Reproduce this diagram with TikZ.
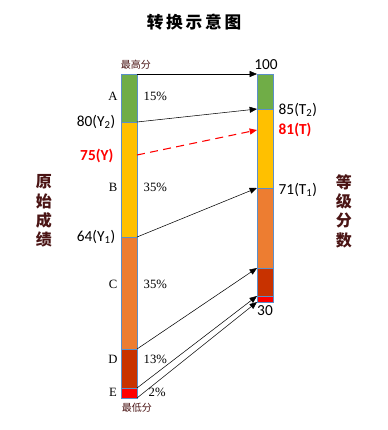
\documentclass[tikz,border=0pt]{standalone}
\usepackage{fontspec}
\setmainfont{Carlito}
\newfontfamily\serifnum{Liberation Serif}
\newfontfamily\cjk{Noto Sans CJK SC}
\usetikzlibrary{arrows.meta, calc}
\definecolor{bargreen}{HTML}{70AD47}
\definecolor{baryellow}{HTML}{FFC000}
\definecolor{barorange}{HTML}{ED7D31}
\definecolor{bardark}{HTML}{C83200}
\definecolor{barred}{HTML}{FF0000}
\definecolor{barline}{HTML}{5B8FC9}
\definecolor{cjkbrown}{HTML}{4A1414}
\newcommand{\pxu}{0.75pt}

\begin{document}
\begin{tikzpicture}[
      x=0.75pt, y=-0.75pt,
      seg/.style={draw=barline, line width=0.5pt, fill=#1, minimum width=16*\pxu,
                  inner sep=0pt, outer sep=0pt, anchor=north west},
      grade/.style={font=\serifnum\fontsize{9.5}{11}\selectfont},
      score/.style={font=\fontsize{11.5}{13}\selectfont},
      vtitle/.style={font=\cjk\bfseries\fontsize{12}{14.5}\selectfont, text=cjkbrown, align=center},
      link/.style={-{Triangle[length=5.5pt, width=4.5pt]}, thin},
    ]
    \useasboundingbox (0,0) rectangle (388,430);

    \node[font=\cjk\bfseries\fontsize{12.5}{14}\selectfont] (title) at (194,22) {转\,换\,示\,意\,图};

    % left bar
    \node[seg=bargreen, minimum height=48*\pxu] (lA) at (121,74) {};
    \node[seg=baryellow, minimum height=115*\pxu] (lB) at (121,122) {};
    \node[seg=barorange, minimum height=112*\pxu] (lC) at (121,237) {};
    \node[seg=bardark, minimum height=39*\pxu] (lD) at (121,349) {};
    \node[seg=barred, minimum height=10*\pxu] (lE) at (121,388) {};

    % right bar
    \node[seg=bargreen, minimum height=35*\pxu] (rA) at (257,74) {};
    \node[seg=baryellow, minimum height=79*\pxu] (rB) at (257,109) {};
    \node[seg=barorange, minimum height=80*\pxu] (rC) at (257,188) {};
    \node[seg=bardark, minimum height=28*\pxu] (rD) at (257,268) {};
    \node[seg=barred, minimum height=6*\pxu] (rE) at (257,296) {};

    \node[font=\cjk\fontsize{7.5}{9}\selectfont, text=cjkbrown] (top) at (136,65) {最高分};
    \node[font=\cjk\fontsize{7.5}{9}\selectfont, text=cjkbrown] (bottom) at (137,408) {最低分};

    \node[grade] (gA) at (113,96) {A};
    \node[grade] (gB) at (113,187) {B};
    \node[grade] (gC) at (113,284) {C};
    \node[grade] (gD) at (113,359) {D};
    \node[grade] (gE) at (113,392) {E};
    \node[grade, anchor=west] (pA) at (139,96) {15\%};
    \node[grade, anchor=west] (pB) at (139,187) {35\%};
    \node[grade, anchor=west] (pC) at (139,284) {35\%};
    \node[grade, anchor=west] (pD) at (139,359) {13\%};
    \node[grade, anchor=west] (pE) at (144,392) {2\%};

    \node[score, anchor=east] (y2) at (120,122) {80(Y\textsubscript{2})};
    \node[score, anchor=east, text=barred, font=\bfseries\fontsize{11.5}{13}\selectfont] (y) at (118,156) {75(Y)};
    \node[score, anchor=east] (y1) at (120,237) {64(Y\textsubscript{1})};

    \node[score] (t100) at (266,65) {100};
    \node[score, anchor=west] (t2) at (274,110) {85(T\textsubscript{2})};
    \node[score, anchor=west, text=barred, font=\bfseries\fontsize{11.5}{13}\selectfont] (t) at (274,130) {81(T)};
    \node[score, anchor=west] (t1) at (274,190) {71(T\textsubscript{1})};
    \node[score] (t30) at (265,311) {30};

    \node[vtitle] (raw) at (44,211) {原\\始\\成\\绩};
    \node[vtitle] (lvl) at (344,211) {等\\级\\分\\数};

    \coordinate (ly) at (137,155);
    \coordinate (ry) at (257,130);

    \draw[link] (lA.north east) -- (rA.north west);
    \draw[link] (lA.south east) -- (rA.south west);
    \draw[link, red, thick, dash pattern=on 6pt off 4pt] (ly) -- (ry);
    \draw[link] (lB.south east) -- (rB.south west);
    \draw[link] (lC.south east) -- (rC.south west);
    \draw[link] (lD.south east) -- (rD.south west);
    \draw[link] (lE.south east) -- (rE.south west);
  \end{tikzpicture}
\end{document}
